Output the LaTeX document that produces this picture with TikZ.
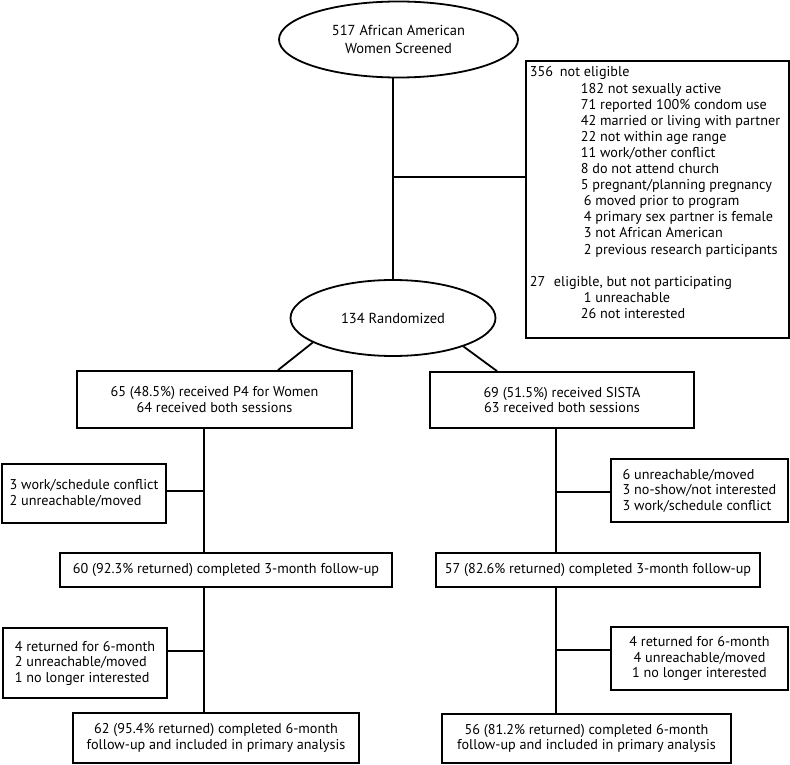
\documentclass[tikz,border=0pt]{standalone}
\usepackage{fontspec}
\setmainfont{PT Sans}
\usetikzlibrary{shapes.geometric,calc}
\newcommand\fsbox{\fontsize{14.2}{15.5}\selectfont}
\newcommand\fsell{\fontsize{14.5}{18}\selectfont}
\newcommand\fsbig{\fontsize{14.2}{16.1}\selectfont}
\begin{document}
\begin{tikzpicture}[x=1pt,y=-1pt,line width=1.8pt,
  box/.style={draw,rectangle,inner sep=0pt,align=center,font=\fsbox},
  lbox/.style={box,align=left},
  ell/.style={draw,ellipse,inner sep=0pt,align=center,font=\fsell}]
\useasboundingbox (0,0) rectangle (790,765);

% ellipses
\node[ell,minimum width=239,minimum height=76] (E1) at (398.5,39.5) {517 African American\\Women Screened};
\node[ell,minimum width=205,minimum height=76] (E2) at (393,318) {134 Randomized};

% exclusion box
\node[draw,rectangle,inner sep=0pt,minimum width=263,minimum height=277,anchor=north west] (B) at (525,60) {};
\node[anchor=base west,inner sep=0pt,font=\fsbig] (Btxt) at (529,77) {\begin{tabular}[t]{@{}l@{}}
\makebox[30pt][l]{356}not eligible\\
\hspace{51pt}182 not sexually active\\
\hspace{51pt}71 reported 100\% condom use\\
\hspace{51pt}42 married or living with partner\\
\hspace{51pt}22 not within age range\\
\hspace{51pt}11 work/other conflict\\
\hspace{51pt}8 do not attend church\\
\hspace{51pt}5 pregnant/planning pregnancy\\
\hspace{54pt}6 moved prior to program\\
\hspace{54pt}4 primary sex partner is female\\
\hspace{54pt}3 not African American\\
\hspace{54pt}2 previous research participants\\
\\
\makebox[24pt][l]{27}eligible, but not participating\\
\hspace{54pt}1 unreachable\\
\hspace{51pt}26 not interested
\end{tabular}};

% arms
\node[box,minimum width=275,minimum height=57] (L1) at (214.5,399.5) {65 (48.5\%) received P4 for Women\\64 received both sessions};
\node[box,minimum width=264,minimum height=56] (R1) at (562,400) {69 (51.5\%) received SISTA\\63 received both sessions};

\node[lbox,minimum width=164,minimum height=59] (LS1) at (84,493.5) {3 work/schedule conflict\\2 unreachable/moved};
\node[lbox,minimum width=177,minimum height=63] (RS1) at (699.5,490.5) {6 unreachable/moved\\3 no-show/not interested\\3 work/schedule conflict};

\node[box,minimum width=332,minimum height=34] (L2) at (226,570) {60 (92.3\% returned) completed 3-month follow-up};
\node[box,minimum width=324,minimum height=34] (R2) at (598,570) {57 (82.6\% returned) completed 3-month follow-up};

\node[lbox,minimum width=164,minimum height=70] (LS2) at (85,663) {4 returned for 6-month\\2 unreachable/moved\\1 no longer interested};
\node[box,minimum width=177,minimum height=63] (RS2) at (699.5,658.5) {4 returned for 6-month\\4 unreachable/moved\\1 no longer interested};

\node[box,minimum width=286,minimum height=50] (L3) at (216,738) {62 (95.4\% returned) completed 6-month\\follow-up and included in primary analysis};
\node[box,minimum width=289,minimum height=49] (R3) at (586.5,738.5) {56 (81.2\% returned) completed 6-month\\follow-up and included in primary analysis};

% connectors
\coordinate (J1) at (393,177);
\draw (E2.north |- E1.south) -- (E2.north);
\draw (J1) -- (J1 -| B.west);
\draw (E2.197) -- ([xshift=63.5pt]L1.north);
\draw (E2.-22) -- ([xshift=-65pt]R1.north);

\coordinate (LV) at ([xshift=-10.5pt]L1.south);
\draw (LV) -- (LV |- L2.north);
\draw (LV |- L2.south) -- (LV |- L3.north);
\draw ([yshift=2.5pt]LS1.east) -- ([yshift=2.5pt]LS1.east -| LV);
\draw ([yshift=12pt]LS2.east) -- ([yshift=12pt]LS2.east -| LV);

\coordinate (RV) at ([xshift=-6pt]R1.south);
\draw (RV) -- (RV |- R2.north);
\draw (RV |- R2.south) -- (RV |- R3.north);
\draw ([yshift=-1.5pt]RS1.west) -- ([yshift=-1.5pt]RS1.west -| RV);
\draw ([yshift=8.5pt]RS2.west) -- ([yshift=8.5pt]RS2.west -| RV);
\end{tikzpicture}
\end{document}
